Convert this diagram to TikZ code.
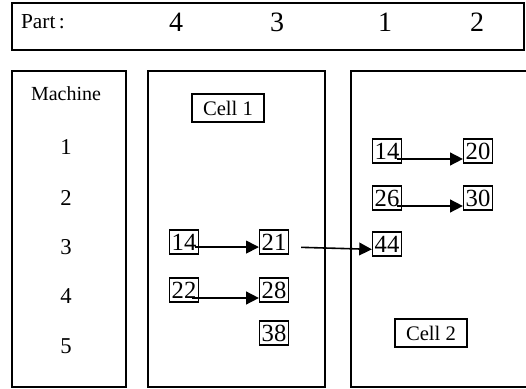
\documentclass[tikz,border=0pt]{standalone}
\usepackage{fontspec}
\setmainfont{Liberation Serif}
\usetikzlibrary{positioning,arrows.meta}

\begin{document}
\begin{tikzpicture}[x=0.75pt,y=-0.75pt,
        panel/.style={draw, line width=1.1pt},
        partname/.style={font=\fontsize{16}{18}\selectfont},
        partnum/.style={font=\fontsize{21}{24}\selectfont},
        mlabel/.style={font=\fontsize{15}{17}\selectfont},
        mnum/.style={font=\fontsize{17}{19}\selectfont},
        opbox/.style={draw, line width=0.9pt, inner sep=0pt, minimum width=21.75pt,
            minimum height=18pt, font=\fontsize{18.5}{18}\selectfont},
        celltag/.style={draw, line width=0.9pt, inner sep=0pt, minimum width=54pt,
            minimum height=21pt, font=\fontsize{15.5}{17}\selectfont},
        flow/.style={line width=1.2pt, -{Triangle[length=9.5pt,width=9.5pt]}}
    ]
    \useasboundingbox (0,0) rectangle (526,389);

    % part sequence
    \draw[panel] (12,3) rectangle (524,50);
    \node[partname] (P0) at (43,22) {Part\,:};
    \foreach \i/\x/\p in {1/176/4, 2/277/3, 3/385/1, 4/477/2} {
        \node[partnum] (P\i) at (\x,22) {\p};
    }

    % machines
    \draw[panel] (12,71) rectangle (126,387);
    \node[mlabel] (M0) at (66,94) {Machine};
    \foreach \i/\y in {1/147, 2/198, 3/247, 4/296, 5/346} {
        \node[mnum] (M\i) at (66,\y) {\i};
    }

    % cell 1
    \draw[panel] (148,71) rectangle (325,387);
    \node[celltag] (C1) at (228,108) {Cell 1};
    \node[opbox] (A14) at (184,242) {14};
    \node[opbox] (A21) at (274,242) {21};
    \node[opbox] (A22) at (184,290) {22};
    \node[opbox] (A28) at (274,290) {28};
    \node[opbox] (A38) at (274,333) {38};

    % cell 2
    \draw[panel] (526,71) -- (351,71) -- (351,387) -- (526,387);
    \node[celltag] (C2) at (431,333) {Cell 2};
    \node[opbox] (B14) at (387,151) {14};
    \node[opbox] (B20) at (478,151) {20};
    \node[opbox] (B26) at (387,198) {26};
    \node[opbox] (B30) at (478,198) {30};
    \node[opbox] (B44) at (387,244) {44};

    % flows
    \draw[flow] ([shift={(-3pt,-3.8pt)}]A14.east) -- ([yshift=-3.8pt]A21.west);
    \draw[flow] ([shift={(-5pt,-6pt)}]A22.east) -- ([yshift=-6pt]A28.west);
    \draw[flow] ([shift={(9pt,-4pt)}]A21.east) -- ([yshift=-4pt]B44.west);
    \draw[flow] ([shift={(-4pt,-6pt)}]B14.east) -- ([yshift=-6pt]B20.west);
    \draw[flow] ([shift={(-4pt,-6pt)}]B26.east) -- ([yshift=-6pt]B30.west);
\end{tikzpicture}
\end{document}
